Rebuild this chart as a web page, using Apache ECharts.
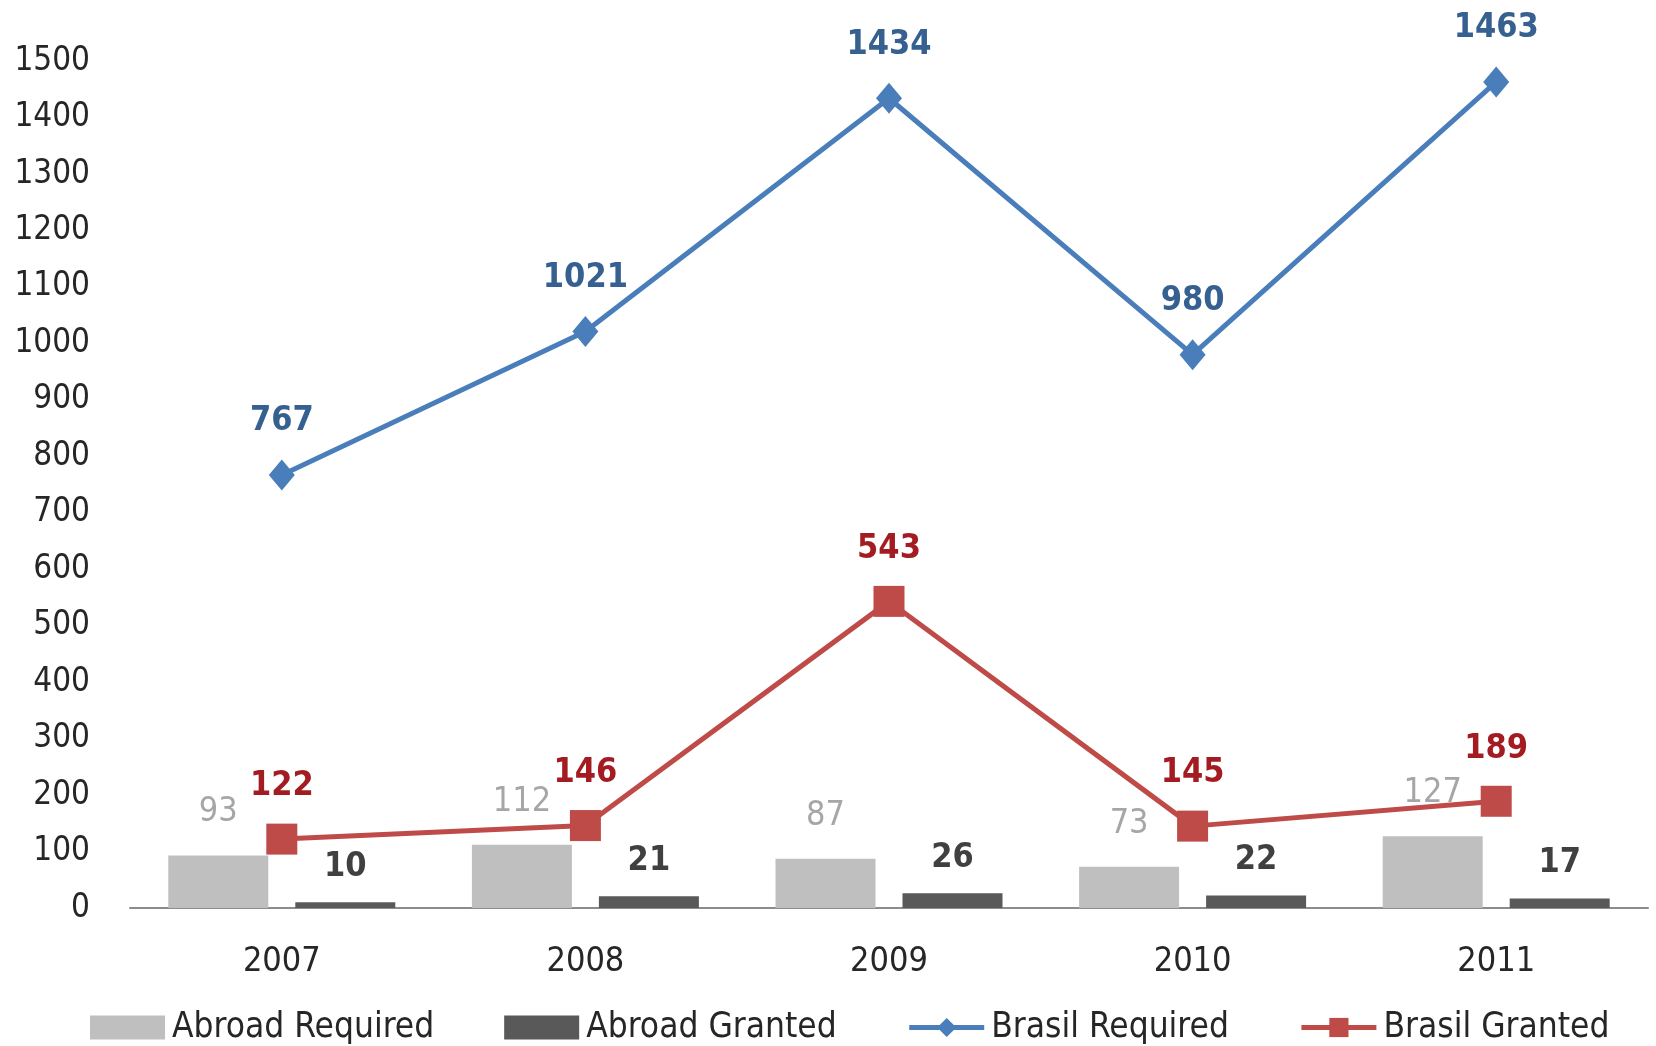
<!DOCTYPE html>
<html>
<head>
<meta charset="utf-8">
<script src="https://cdn.jsdelivr.net/npm/echarts@6/dist/echarts.min.js"></script>
<style>html,body{margin:0;padding:0;background:#fff;}#c{width:1656px;height:1046px;}</style>
</head>
<body>
<div id="c"></div>
<script>
const years = ['2007', '2008', '2009', '2010', '2011'];
const abroadRequired = [93, 112, 87, 73, 127];
const abroadGranted = [10, 21, 26, 22, 17];
const brasilRequired = [767, 1021, 1434, 980, 1463];
const brasilGranted = [122, 146, 543, 145, 189];
const yTicks = { min: 0, max: 1500, interval: 100 };

const FONT = "'DejaVu Sans Condensed', 'Liberation Sans Narrow', 'Liberation Sans', sans-serif";
const chart = echarts.init(document.getElementById('c'));
chart.setOption({
  animation: false,
  backgroundColor: '#ffffff',
  grid: { left: 130, right: 8, top: 61, bottom: 138, outerBoundsMode: 'none', containLabel: false },
  xAxis: {
    type: 'category',
    data: years,
    axisLine: { lineStyle: { color: '#8C8C8C', width: 2 } },
    axisTick: { show: false },
    axisLabel: { color: '#262626', fontFamily: FONT, fontSize: 34, margin: 37 }
  },
  yAxis: {
    type: 'value',
    min: yTicks.min, max: yTicks.max, interval: yTicks.interval,
    axisLine: { show: false },
    axisTick: { show: false },
    splitLine: { show: false },
    axisLabel: { color: '#262626', fontFamily: FONT, fontSize: 33, margin: 40, formatter: v => String(v) }
  },
  legend: {
    bottom: -4,
    left: 85,
    itemGap: 70,
    itemWidth: 75,
    itemHeight: 24,
    lineStyle: { width: 5 },
    textStyle: { color: '#262626', fontFamily: FONT, fontSize: 35, padding: [0, 0, 0, 2] },
    data: [
      { name: 'Abroad Required', icon: 'rect' },
      { name: 'Abroad Granted', icon: 'rect' },
      { name: 'Brasil Required' },
      { name: 'Brasil Granted' }
    ]
  },
  series: [
    {
      name: 'Abroad Required', type: 'bar', data: abroadRequired,
      barWidth: 100, barGap: '27%',
      itemStyle: { color: '#BFBFBF' },
      label: { show: true, position: 'top', distance: 26, color: '#A6A6A6', fontFamily: FONT, fontSize: 34 }
    },
    {
      name: 'Abroad Granted', type: 'bar', data: abroadGranted,
      barWidth: 100,
      itemStyle: { color: '#595959' },
      label: { show: true, position: 'top', distance: 18, color: '#404040', fontFamily: FONT, fontWeight: 'bold', fontSize: 34 }
    },
    {
      name: 'Brasil Required', type: 'line', data: brasilRequired,
      symbol: 'diamond', symbolSize: [26, 31],
      lineStyle: { color: '#4A7EBB', width: 5 },
      itemStyle: { color: '#4A7EBB' },
      label: { show: true, position: 'top', distance: 21, color: '#36608F', fontFamily: FONT, fontWeight: 'bold', fontSize: 34 }
    },
    {
      name: 'Brasil Granted', type: 'line', data: brasilGranted,
      symbol: 'rect', symbolSize: 31,
      lineStyle: { color: '#BE4B48', width: 5 },
      itemStyle: { color: '#BE4B48' },
      label: { show: true, position: 'top', distance: 20, color: '#A31C22', fontFamily: FONT, fontWeight: 'bold', fontSize: 34 }
    }
  ]
});
</script>
</body>
</html>
